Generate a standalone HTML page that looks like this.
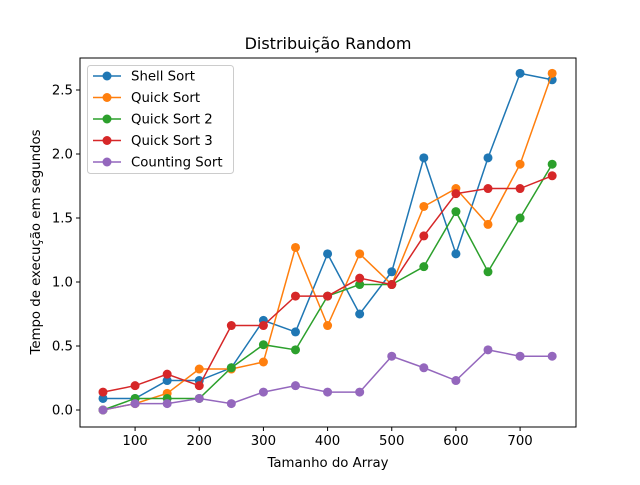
<!DOCTYPE html>
<html><head><meta charset="utf-8"><style>
body{margin:0;background:#fff}
svg{font-family:"DejaVu Sans","Liberation Sans",sans-serif}
</style></head><body>
<svg id="chart" width="640" height="480" viewBox="0 0 640 480">
<rect width="640" height="480" fill="#fff"/>
<text x="328" y="49" text-anchor="middle" font-size="16">Distribuição Random</text>
<g id="axes"></g>
<g id="series"></g>
<g id="legend"></g>
</svg>
<script>
const xs=[50,100,150,200,250,300,350,400,450,500,550,600,650,700,750];
const seriesNames=["Shell Sort","Quick Sort","Quick Sort 2","Quick Sort 3","Counting Sort"];
const colors=["#1f77b4","#ff7f0e","#2ca02c","#d62728","#9467bd"];
const shell=[0.09,0.09,0.23,0.23,0.33,0.70,0.61,1.22,0.75,1.08,1.97,1.22,1.97,2.63,2.58];
const quick=[0,0.05,0.13,0.32,0.32,0.375,1.27,0.66,1.22,0.98,1.59,1.73,1.45,1.92,2.63];
const quick2=[0,0.09,0.09,0.09,0.33,0.51,0.47,0.89,0.98,0.98,1.12,1.55,1.08,1.50,1.92];
const quick3=[0.14,0.19,0.28,0.19,0.66,0.66,0.89,0.89,1.03,0.98,1.36,1.69,1.73,1.73,1.83];
const counting=[0,0.05,0.05,0.09,0.05,0.14,0.19,0.14,0.14,0.42,0.33,0.23,0.47,0.42,0.42];
const xTicks=[100,200,300,400,500,600,700];
const yTicks=[0,0.5,1.0,1.5,2.0,2.5];
const all=[shell,quick,quick2,quick3,counting];
const NS="http://www.w3.org/2000/svg";
const L=80,R=576,T=58,B=427;
const xS=v=>103+(v-50)*(385/600);
const yS=v=>410-v*128;
function mk(t,a,p){const e=document.createElementNS(NS,t);for(const k in a)e.setAttribute(k,a[k]);p.appendChild(e);return e;}
const ax=document.getElementById('axes');
const frame=mk('rect',{x:L,y:T,width:R-L,height:B-T,fill:'none',stroke:'#000','stroke-width':1},ax);


xTicks.forEach(v=>{const x=xS(v);
const l=mk('line',{x1:x,x2:x,y1:B,y2:B+4,stroke:'#000'},ax);


const t=mk('text',{x:x,y:B+18,'text-anchor':'middle','font-size':13.3},ax);t.textContent=v;

});
yTicks.forEach(v=>{const y=yS(v);
const l=mk('line',{x1:L-4,x2:L,y1:y,y2:y,stroke:'#000'},ax);


const t=mk('text',{x:L-7,y:y+4.5,'text-anchor':'end','font-size':13.3},ax);t.textContent=v.toFixed(1);

});
const xt=mk('text',{x:328,y:467,'text-anchor':'middle','font-size':13.3},ax);xt.textContent='Tamanho do Array';


const yt=mk('text',{x:40,y:242,'text-anchor':'middle','font-size':13.3,transform:'rotate(-90 40 242)'},ax);yt.textContent='Tempo de execução em segundos';


const sg=document.getElementById('series');
all.forEach((d,i)=>{
const g=mk('g',{},sg);


const pl=mk('polyline',{points:d.map((v,j)=>xS(xs[j])+','+yS(v)).join(' '),fill:'none',stroke:colors[i],'stroke-width':1.5},g);


d.forEach((v,j)=>{const c=mk('circle',{cx:xS(xs[j]),cy:yS(v),r:4.5,fill:colors[i]},g);

});
});
const lg=document.getElementById('legend');


mk('rect',{x:87.5,y:65.5,width:146,height:108,rx:3,fill:'#fff',stroke:'#ccc'},lg);
seriesNames.forEach((n,i)=>{const y=76+i*21.5;
const g=mk('g',{},lg);


mk('line',{x1:93,x2:121,y1:y,y2:y,stroke:colors[i],'stroke-width':1.5},g);
mk('circle',{cx:107,cy:y,r:4.5,fill:colors[i]},g);
const t=mk('text',{x:131,y:y+4.5,'font-size':13.3},g);t.textContent=n;});
</script>
</body></html>
